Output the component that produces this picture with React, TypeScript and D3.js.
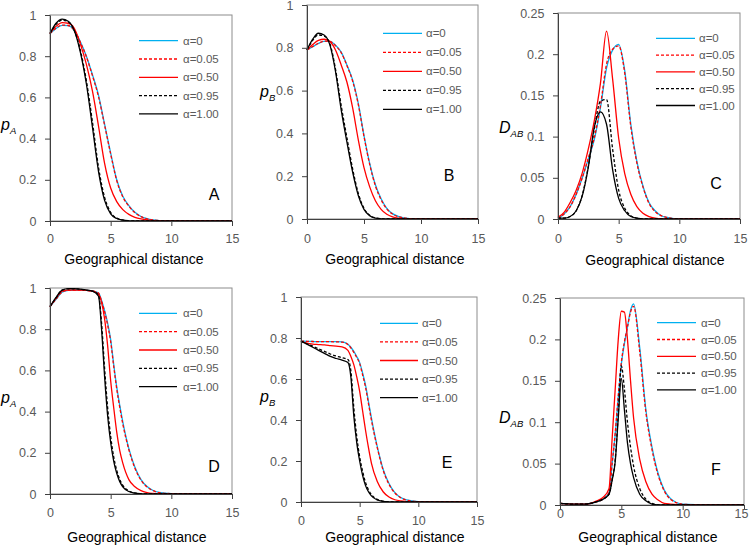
import React, {useEffect, useRef} from "react";
import * as d3 from "d3";

// x grids (geographical distance)
const distanceTop = [0, 0.5, 1, 1.5, 2, 2.5, 3, 3.5, 4, 4.5, 5, 5.5, 6, 6.5, 7, 7.5, 8, 8.5, 9, 10, 12, 15];
const distanceBottom = [0, 0.5, 1, 1.5, 2, 2.5, 3, 3.5, 4, 4.25, 4.5, 4.75, 5, 5.25, 5.5, 5.75, 6, 6.5, 7, 7.5, 8, 8.5, 9, 10, 12, 15];

const alphaLabels = ["α=0", "α=0.05", "α=0.50", "α=0.95", "α=1.00"];
const probTicks = [0, 0.2, 0.4, 0.6, 0.8, 1];
const dabTicks = [0, 0.05, 0.1, 0.15, 0.2, 0.25];
const distanceTicks = [0, 5, 10, 15];

// Panel A: pA
const aAlpha0 = [0.91, 0.935, 0.95, 0.948, 0.925, 0.87, 0.8, 0.71, 0.61, 0.47, 0.33, 0.2, 0.12, 0.075, 0.042, 0.022, 0.011, 0.005, 0.002, 0, 0, 0];
const aAlpha005 = [0.91, 0.936, 0.951, 0.949, 0.925, 0.868, 0.797, 0.705, 0.603, 0.465, 0.325, 0.196, 0.117, 0.072, 0.04, 0.021, 0.01, 0.005, 0.002, 0, 0, 0];
const aAlpha050 = [0.91, 0.945, 0.963, 0.96, 0.935, 0.86, 0.76, 0.63, 0.46, 0.28, 0.16, 0.094, 0.055, 0.032, 0.018, 0.01, 0.005, 0.002, 0.001, 0, 0, 0];
const aAlpha095 = [0.91, 0.955, 0.975, 0.967, 0.925, 0.83, 0.68, 0.48, 0.26, 0.115, 0.042, 0.014, 0.005, 0.001, 0, 0, 0, 0, 0, 0, 0, 0];
const aAlpha100 = [0.91, 0.96, 0.98, 0.97, 0.925, 0.82, 0.665, 0.455, 0.24, 0.1, 0.035, 0.012, 0.004, 0.001, 0, 0, 0, 0, 0, 0, 0, 0];

// Panel B: pB
const bAlpha0 = [0.79, 0.805, 0.82, 0.83, 0.83, 0.812, 0.78, 0.72, 0.65, 0.54, 0.39, 0.26, 0.16, 0.095, 0.05, 0.025, 0.012, 0.005, 0.002, 0, 0, 0];
const bAlpha005 = [0.79, 0.806, 0.821, 0.831, 0.83, 0.81, 0.777, 0.717, 0.645, 0.535, 0.385, 0.255, 0.155, 0.09, 0.047, 0.023, 0.011, 0.005, 0.002, 0, 0, 0];
const bAlpha050 = [0.79, 0.815, 0.835, 0.84, 0.83, 0.79, 0.72, 0.64, 0.52, 0.37, 0.24, 0.15, 0.085, 0.045, 0.022, 0.01, 0.004, 0.002, 0.001, 0, 0, 0];
const bAlpha095 = [0.79, 0.835, 0.86, 0.855, 0.82, 0.7, 0.53, 0.38, 0.235, 0.12, 0.05, 0.017, 0.005, 0.001, 0, 0, 0, 0, 0, 0, 0, 0];
const bAlpha100 = [0.79, 0.84, 0.868, 0.86, 0.815, 0.69, 0.51, 0.36, 0.22, 0.11, 0.045, 0.015, 0.004, 0.001, 0, 0, 0, 0, 0, 0, 0, 0];

// Panel C: DAB
const cAlpha0 = [0.001, 0.006, 0.015, 0.03, 0.05, 0.073, 0.097, 0.135, 0.183, 0.205, 0.212, 0.18, 0.115, 0.07, 0.04, 0.02, 0.01, 0.004, 0.002, 0, 0, 0];
const cAlpha005 = [0.001, 0.006, 0.015, 0.03, 0.05, 0.074, 0.099, 0.138, 0.188, 0.206, 0.21, 0.177, 0.112, 0.068, 0.039, 0.019, 0.009, 0.004, 0.002, 0, 0, 0];
const cAlpha050 = [0.002, 0.008, 0.02, 0.035, 0.056, 0.085, 0.12, 0.165, 0.228, 0.17, 0.098, 0.055, 0.03, 0.015, 0.007, 0.003, 0.001, 0, 0, 0, 0, 0];
const cAlpha095 = [0.001, 0.001, 0.003, 0.01, 0.029, 0.064, 0.11, 0.143, 0.145, 0.085, 0.035, 0.013, 0.004, 0.001, 0, 0, 0, 0, 0, 0, 0, 0];
const cAlpha100 = [0.001, 0.001, 0.003, 0.01, 0.028, 0.063, 0.112, 0.13, 0.115, 0.06, 0.025, 0.01, 0.003, 0.001, 0, 0, 0, 0, 0, 0, 0, 0];

// Panel D: pA
const dAlpha0 = [0.91, 0.945, 0.98, 0.988, 0.99, 0.99, 0.988, 0.985, 0.975, 0.94, 0.89, 0.83, 0.75, 0.63, 0.52, 0.43, 0.35, 0.22, 0.13, 0.07, 0.036, 0.017, 0.008, 0.002, 0, 0];
const dAlpha005 = [0.91, 0.946, 0.981, 0.989, 0.99, 0.99, 0.988, 0.985, 0.975, 0.935, 0.885, 0.82, 0.74, 0.62, 0.51, 0.42, 0.34, 0.215, 0.125, 0.067, 0.034, 0.016, 0.007, 0.002, 0, 0];
const dAlpha050 = [0.91, 0.95, 0.985, 0.99, 0.99, 0.99, 0.988, 0.985, 0.97, 0.93, 0.85, 0.72, 0.55, 0.42, 0.3, 0.21, 0.15, 0.07, 0.035, 0.016, 0.007, 0.003, 0.001, 0, 0, 0];
const dAlpha095 = [0.91, 0.952, 0.99, 0.996, 0.996, 0.994, 0.99, 0.985, 0.965, 0.83, 0.61, 0.42, 0.28, 0.18, 0.115, 0.07, 0.042, 0.015, 0.005, 0.001, 0, 0, 0, 0, 0, 0];
const dAlpha100 = [0.91, 0.955, 0.99, 0.997, 0.997, 0.995, 0.99, 0.985, 0.96, 0.8, 0.57, 0.38, 0.25, 0.16, 0.1, 0.06, 0.035, 0.012, 0.004, 0.001, 0, 0, 0, 0, 0, 0];

// Panel E: pB
const eAlpha0 = [0.785, 0.784, 0.783, 0.782, 0.782, 0.782, 0.782, 0.781, 0.77, 0.755, 0.735, 0.71, 0.68, 0.63, 0.57, 0.49, 0.41, 0.27, 0.16, 0.09, 0.046, 0.022, 0.01, 0.002, 0, 0];
const eAlpha005 = [0.785, 0.784, 0.783, 0.782, 0.782, 0.782, 0.781, 0.78, 0.768, 0.752, 0.73, 0.705, 0.675, 0.62, 0.56, 0.48, 0.4, 0.265, 0.155, 0.086, 0.044, 0.021, 0.009, 0.002, 0, 0];
const eAlpha050 = [0.785, 0.775, 0.77, 0.768, 0.766, 0.763, 0.76, 0.757, 0.74, 0.71, 0.67, 0.61, 0.54, 0.445, 0.35, 0.265, 0.19, 0.1, 0.05, 0.024, 0.011, 0.005, 0.002, 0, 0, 0];
const eAlpha095 = [0.785, 0.772, 0.76, 0.747, 0.735, 0.722, 0.712, 0.704, 0.695, 0.64, 0.46, 0.32, 0.22, 0.15, 0.095, 0.06, 0.036, 0.013, 0.004, 0.001, 0, 0, 0, 0, 0, 0];
const eAlpha100 = [0.785, 0.77, 0.755, 0.74, 0.725, 0.71, 0.7, 0.692, 0.68, 0.61, 0.42, 0.29, 0.2, 0.13, 0.08, 0.05, 0.03, 0.01, 0.003, 0.001, 0, 0, 0, 0, 0, 0];

// Panel F: DAB
const fAlpha0 = [0.002, 0.0015, 0.001, 0.001, 0.001, 0.002, 0.004, 0.007, 0.015, 0.05, 0.085, 0.13, 0.17, 0.195, 0.215, 0.235, 0.243, 0.19, 0.115, 0.07, 0.038, 0.018, 0.008, 0.001, 0, 0];
const fAlpha005 = [0.002, 0.0015, 0.001, 0.001, 0.001, 0.002, 0.004, 0.007, 0.015, 0.05, 0.087, 0.132, 0.172, 0.197, 0.215, 0.233, 0.24, 0.185, 0.112, 0.067, 0.036, 0.017, 0.007, 0.001, 0, 0];
const fAlpha050 = [0.002, 0.0015, 0.001, 0.001, 0.001, 0.002, 0.005, 0.009, 0.02, 0.08, 0.14, 0.2, 0.234, 0.233, 0.2, 0.15, 0.105, 0.055, 0.028, 0.013, 0.006, 0.002, 0.001, 0, 0, 0];
const fAlpha095 = [0.002, 0.0015, 0.001, 0.001, 0.001, 0.002, 0.004, 0.007, 0.013, 0.03, 0.055, 0.11, 0.168, 0.14, 0.1, 0.07, 0.047, 0.02, 0.007, 0.002, 0, 0, 0, 0, 0, 0];
const fAlpha100 = [0.002, 0.0015, 0.001, 0.001, 0.001, 0.002, 0.004, 0.007, 0.013, 0.03, 0.052, 0.105, 0.153, 0.115, 0.075, 0.05, 0.033, 0.013, 0.005, 0.001, 0, 0, 0, 0, 0, 0];

const lineStyles = [
	{color: "#00b0f0", dash: null as string | null},
	{color: "#ff0000", dash: "3,2"},
	{color: "#ff0000", dash: null},
	{color: "#000000", dash: "3,2"},
	{color: "#000000", dash: null},
];

const FONT = "'Liberation Sans', Arial, sans-serif";

interface Panel {
	letter: string;
	xs: number[];
	series: number[][];
	yMax: number;
	yTicks: number[];
	yName: string;
	ySub: string;
	box: {left: number; right: number; top: number; bottom: number};
	yLabel: {x: number; y: number};
	tickBaseline: number;
	lastTickShift: number;
	title: {x: number; y: number};
	legend: {x1: number; x2: number; tx: number; y0: number; gap: number};
	letterPos: {x: number; y: number};
}

const panels: Panel[] = [
	{
		letter: "A", xs: distanceTop, series: [aAlpha0, aAlpha005, aAlpha050, aAlpha095, aAlpha100],
		yMax: 1, yTicks: probTicks, yName: "p", ySub: "A",
		box: {left: 50, right: 232, top: 15, bottom: 221},
		yLabel: {x: 1, y: 130}, tickBaseline: 243, lastTickShift: 0, title: {x: 134, y: 264},
		legend: {x1: 139, x2: 178, tx: 183, y0: 40.7, gap: 18.3}, letterPos: {x: 214, y: 200},
	},
	{
		letter: "B", xs: distanceTop, series: [bAlpha0, bAlpha005, bAlpha050, bAlpha095, bAlpha100],
		yMax: 1, yTicks: probTicks, yName: "p", ySub: "B",
		box: {left: 307, right: 478, top: 5, bottom: 219},
		yLabel: {x: 260, y: 97}, tickBaseline: 243, lastTickShift: 0, title: {x: 395, y: 264},
		legend: {x1: 383, x2: 422, tx: 426, y0: 33.3, gap: 19}, letterPos: {x: 449, y: 181},
	},
	{
		letter: "C", xs: distanceTop, series: [cAlpha0, cAlpha005, cAlpha050, cAlpha095, cAlpha100],
		yMax: 0.25, yTicks: dabTicks, yName: "D", ySub: "AB",
		box: {left: 558, right: 740, top: 13, bottom: 219},
		yLabel: {x: 499, y: 133}, tickBaseline: 243, lastTickShift: 0, title: {x: 655, y: 265},
		legend: {x1: 656, x2: 695, tx: 699, y0: 38.3, gap: 16.8}, letterPos: {x: 716, y: 189},
	},
	{
		letter: "D", xs: distanceBottom, series: [dAlpha0, dAlpha005, dAlpha050, dAlpha095, dAlpha100],
		yMax: 1, yTicks: probTicks, yName: "p", ySub: "A",
		box: {left: 50, right: 232, top: 288, bottom: 494},
		yLabel: {x: 1, y: 403}, tickBaseline: 517, lastTickShift: 0, title: {x: 137, y: 542},
		legend: {x1: 139, x2: 177, tx: 183, y0: 313.3, gap: 18.35}, letterPos: {x: 214, y: 472},
	},
	{
		letter: "E", xs: distanceBottom, series: [eAlpha0, eAlpha005, eAlpha050, eAlpha095, eAlpha100],
		yMax: 1, yTicks: probTicks, yName: "p", ySub: "B",
		box: {left: 301, right: 477, top: 297, bottom: 502},
		yLabel: {x: 260, y: 402}, tickBaseline: 525, lastTickShift: 0, title: {x: 395, y: 542},
		legend: {x1: 380, x2: 418, tx: 422, y0: 323.3, gap: 18.6}, letterPos: {x: 447, y: 468},
	},
	{
		letter: "F", xs: distanceBottom, series: [fAlpha0, fAlpha005, fAlpha050, fAlpha095, fAlpha100],
		yMax: 0.25, yTicks: dabTicks, yName: "D", ySub: "AB",
		box: {left: 560, right: 744, top: 298, bottom: 505},
		yLabel: {x: 499, y: 423}, tickBaseline: 518, lastTickShift: -3, title: {x: 648, y: 542},
		legend: {x1: 657, x2: 696, tx: 701, y0: 322.7, gap: 16.8}, letterPos: {x: 716, y: 475},
	},
];

const App: React.FC = () => {
	const svgRef = useRef<SVGSVGElement>(null);

	useEffect(() => {
		const svg = d3.select(svgRef.current);
		svg.selectAll("*").remove();

		panels.forEach((p) => {
			const {left, right, top, bottom} = p.box;
			const x = d3.scaleLinear().domain([0, 15]).range([left, right]);
			const y = d3.scaleLinear().domain([0, p.yMax]).range([bottom, top]);
			const g = svg.append("g");

			// plot frame
			g.append("rect")
				.attr("x", left)
				.attr("y", top)
				.attr("width", right - left)
				.attr("height", bottom - top)
				.attr("fill", "none")
				.attr("stroke", "#8c8c8c")
				.attr("stroke-width", 1);

			// curves
			const line = d3
				.line<number>()
				.x((_, i) => x(p.xs[i]))
				.y((d) => y(d))
				.curve(d3.curveMonotoneX);

			p.series.forEach((values, i) => {
				const st = lineStyles[i];
				g.append("path")
					.datum(values)
					.attr("fill", "none")
					.attr("stroke", st.color)
					.attr("stroke-width", 1.3)
					.attr("stroke-dasharray", st.dash)
					.attr("d", line);
			});

			// Y axis
			const yAxis = g
				.append("g")
				.attr("transform", `translate(${left},0)`)
				.call(
					d3
						.axisLeft(y)
						.tickValues(p.yTicks)
						.tickSize(5)
						.tickSizeOuter(0)
						.tickPadding(8.5)
						.tickFormat((d) => d3.format("~g")(d as number))
				);

			// X axis
			const xAxis = g
				.append("g")
				.attr("transform", `translate(0,${bottom})`)
				.call(d3.axisBottom(x).tickValues(distanceTicks).tickSize(5).tickSizeOuter(0));
			xAxis
				.selectAll("text")
				.attr("y", p.tickBaseline - bottom)
				.attr("dy", null)
				.attr("dx", (d) => ((d as number) === 15 ? p.lastTickShift : 0));

			[yAxis, xAxis].forEach((ax) => {
				ax.select(".domain").attr("stroke", "#404040");
				ax.selectAll("line").attr("stroke", "#404040");
				ax.selectAll("text")
					.attr("fill", "#595959")
					.style("font-family", FONT)
					.style("font-size", "12.5px");
			});

			// x title
			g.append("text")
				.attr("x", p.title.x)
				.attr("y", p.title.y)
				.attr("text-anchor", "middle")
				.style("font-family", FONT)
				.style("font-size", "14px")
				.style("fill", "#000")
				.text("Geographical distance");

			// y label
			const yl = g
				.append("text")
				.attr("x", p.yLabel.x)
				.attr("y", p.yLabel.y)
				.style("font-family", FONT)
				.style("font-style", "italic")
				.style("font-size", "16px")
				.style("fill", "#000");
			yl.append("tspan").text(p.yName);
			yl.append("tspan").attr("dy", 4).style("font-size", "9.5px").text(p.ySub);

			// legend
			alphaLabels.forEach((label, i) => {
				const st = lineStyles[i];
				const ly = p.legend.y0 + i * p.legend.gap;
				g.append("line")
					.attr("x1", p.legend.x1)
					.attr("x2", p.legend.x2)
					.attr("y1", ly)
					.attr("y2", ly)
					.attr("stroke", st.color)
					.attr("stroke-width", 1.3)
					.attr("stroke-dasharray", st.dash);
				g.append("text")
					.attr("x", p.legend.tx)
					.attr("y", ly + 4)
					.style("font-family", FONT)
					.style("font-size", "11.5px")
					.style("fill", "#595959")
					.text(label);
			});

			// panel letter
			g.append("text")
				.attr("x", p.letterPos.x)
				.attr("y", p.letterPos.y)
				.attr("text-anchor", "middle")
				.style("font-family", FONT)
				.style("font-size", "16px")
				.style("fill", "#000")
				.text(p.letter);
		});
	}, []);

	return (
		<svg
			ref={svgRef}
			width={749}
			height={547}
			style={{position: "absolute", left: 0, top: 0, background: "#fff"}}
		/>
	);
};

export default App;
